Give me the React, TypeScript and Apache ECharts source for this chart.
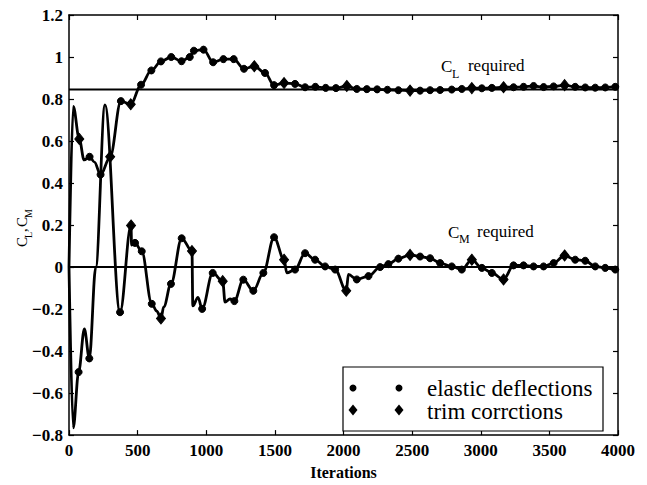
import React, { useEffect, useRef } from "react";
import * as echarts from "echarts";

// ---- data ----
const X_TICK_LABELS = ["0", "500", "1000", "1500", "2000", "2500", "3000", "3500", "4000"];
const Y_TICK_LABELS = ["\u22120.8", "\u22120.6", "\u22120.4", "\u22120.2", "0", "0.2", "0.4", "0.6", "0.8", "1", "1.2"];

const CL_REQUIRED = 0.845;
const CM_REQUIRED = 0.0;

// o = elastic deflection, d = trim correction, "" = no marker
const CL_ITER = [0, 31, 75, 110, 150, 185, 230, 300, 378, 450, 525, 600, 670, 745, 820, 880, 910, 980, 1050, 1125, 1200, 1275, 1350, 1428, 1494, 1567, 1647, 1720, 1795, 1870, 1945, 2024, 2097, 2170, 2245, 2320, 2400, 2485, 2558, 2631, 2704, 2789, 2862, 2935, 3008, 3081, 3166, 3239, 3312, 3385, 3458, 3531, 3611, 3688, 3761, 3834, 3907, 3980, 4000];
const CL_VAL = [0.0, 0.765, 0.61, 0.51, 0.525, 0.5, 0.44, 0.525, 0.79, 0.775, 0.868, 0.936, 0.979, 1.0, 0.98, 1.0, 1.03, 1.035, 0.975, 0.99, 0.99, 0.944, 0.956, 0.924, 0.866, 0.876, 0.872, 0.856, 0.858, 0.853, 0.852, 0.862, 0.848, 0.847, 0.846, 0.844, 0.842, 0.84, 0.84, 0.842, 0.843, 0.845, 0.848, 0.852, 0.851, 0.853, 0.856, 0.856, 0.858, 0.862, 0.857, 0.86, 0.866, 0.858, 0.855, 0.854, 0.855, 0.858, 0.858];
const CL_MARK = ["", "", "d", "", "o", "", "o", "d", "o", "d", "o", "o", "o", "o", "o", "o", "o", "o", "o", "o", "o", "o", "d", "o", "o", "d", "o", "o", "o", "o", "o", "d", "o", "o", "o", "o", "o", "d", "o", "o", "o", "o", "o", "d", "o", "o", "d", "o", "o", "o", "o", "o", "d", "o", "o", "o", "o", "o", ""];

const CM_ITER = [0, 31, 70, 112, 148, 195, 262, 372, 452, 456, 481, 530, 603, 640, 670, 690, 743, 821, 896, 902, 940, 970, 1047, 1120, 1137, 1173, 1205, 1270, 1343, 1416, 1494, 1567, 1587, 1647, 1720, 1793, 1866, 1939, 2020, 2036, 2097, 2182, 2267, 2327, 2400, 2485, 2558, 2631, 2704, 2789, 2862, 2935, 3008, 3081, 3166, 3239, 3312, 3385, 3458, 3531, 3611, 3688, 3761, 3834, 3907, 3980, 4000];
const CM_VAL = [0.0, -0.766, -0.5, -0.295, -0.435, 0.0, 0.772, -0.215, 0.198, 0.105, 0.115, 0.075, -0.175, -0.21, -0.245, -0.19, -0.08, 0.137, 0.076, -0.185, -0.144, -0.199, -0.028, -0.067, -0.167, -0.152, -0.162, -0.06, -0.113, -0.028, 0.142, 0.035, -0.028, -0.012, 0.066, 0.035, 0.003, -0.012, -0.113, -0.035, -0.059, -0.043, 0.0, 0.014, 0.04, 0.058, 0.05, 0.042, 0.019, 0.003, -0.012, 0.035, -0.004, -0.028, -0.059, 0.008, 0.008, 0.003, 0.003, 0.019, 0.055, 0.035, 0.03, 0.003, -0.004, -0.012, -0.012];
const CM_MARK = ["", "", "o", "", "o", "", "", "o", "d", "", "o", "o", "o", "", "d", "", "o", "o", "d", "", "", "o", "o", "d", "", "", "o", "o", "o", "o", "o", "d", "", "o", "o", "o", "o", "o", "d", "", "o", "o", "o", "o", "o", "d", "o", "o", "o", "o", "o", "d", "o", "o", "d", "o", "o", "o", "o", "o", "d", "o", "o", "o", "o", "o", ""];

const LEGEND_LABELS = ["elastic deflections", "trim corrctions"];

const SERIF = "Liberation Serif";

function buildPoints(iters: number[], vals: number[], marks: string[]) {
  return iters.map((x, i) => {
    const m = marks[i];
    if (m === "o") return { value: [x, vals[i]], symbol: "circle", symbolSize: 7 };
    if (m === "d") return { value: [x, vals[i]], symbol: "diamond", symbolSize: [9, 11] };
    return { value: [x, vals[i]], symbol: "none" };
  });
}

function txt(text: string, x: number, y: number, size: number, extra: any = {}) {
  return {
    type: "text", x, y,
    style: { text, fontFamily: SERIF, fontSize: size, fill: "#000", verticalAlign: "middle", align: "left", ...extra },
  };
}

export default function App() {
  const ref = useRef<HTMLDivElement>(null);

  useEffect(() => {
    if (!ref.current) return;
    const chart = echarts.init(ref.current, null, { renderer: "svg" });

    const tickStyle = { show: true, inside: true, length: 5, lineStyle: { color: "#000", width: 1.2 } };
    const lineStyleAxis = { show: true, onZero: false, lineStyle: { color: "#000", width: 1.5 } };

    chart.setOption({
      animation: false,
      backgroundColor: "#fff",
      grid: { left: 69, right: 29, top: 15, bottom: 41, containLabel: false },
      xAxis: [
        {
          type: "value", min: 0, max: 4000, interval: 500, position: "bottom",
          axisLine: lineStyleAxis, axisTick: tickStyle, splitLine: { show: false },
          axisLabel: {
            margin: 7, color: "#000", fontFamily: SERIF, fontSize: 17, fontWeight: "bold",
            formatter: (v: number) => X_TICK_LABELS[Math.round(v / 500)] ?? "",
          },
          name: "Iterations", nameLocation: "middle", nameGap: 26,
          nameTextStyle: { color: "#000", fontFamily: SERIF, fontSize: 16, fontWeight: "bold" },
        },
        {
          type: "value", min: 0, max: 4000, interval: 500, position: "top",
          axisLine: lineStyleAxis, axisTick: tickStyle, axisLabel: { show: false }, splitLine: { show: false },
        },
      ],
      yAxis: [
        {
          type: "value", min: -0.8, max: 1.2, interval: 0.2, position: "left",
          axisLine: lineStyleAxis, axisTick: tickStyle, splitLine: { show: false },
          axisLabel: {
            margin: 6, color: "#000", fontFamily: SERIF, fontSize: 17, fontWeight: "bold",
            formatter: (v: number) => Y_TICK_LABELS[Math.round((v + 0.8) / 0.2)] ?? "",
          },
        },
        {
          type: "value", min: -0.8, max: 1.2, interval: 0.2, position: "right",
          axisLine: lineStyleAxis, axisTick: tickStyle, axisLabel: { show: false }, splitLine: { show: false },
        },
      ],
      series: [
        {
          type: "line", name: "CL required", symbol: "none", silent: true,
          data: [[0, CL_REQUIRED], [4000, CL_REQUIRED]],
          lineStyle: { color: "#000", width: 2 }, z: 2,
        },
        {
          type: "line", name: "CM required", symbol: "none", silent: true,
          data: [[0, CM_REQUIRED], [4000, CM_REQUIRED]],
          lineStyle: { color: "#000", width: 2 }, z: 2,
        },
        {
          type: "line", name: "CL", symbol: "none", showAllSymbol: true,
          smooth: 0.35, smoothMonotone: "x",
          data: buildPoints(CL_ITER, CL_VAL, CL_MARK),
          lineStyle: { color: "#000", width: 2.8 },
          itemStyle: { color: "#000", borderColor: "#000" }, z: 3,
        },
        {
          type: "line", name: "CM", symbol: "none", showAllSymbol: true,
          smooth: 0.35, smoothMonotone: "x",
          data: buildPoints(CM_ITER, CM_VAL, CM_MARK),
          lineStyle: { color: "#000", width: 2.8 },
          itemStyle: { color: "#000", borderColor: "#000" }, z: 3,
        },
      ],
    });

    const px = (x: number, y: number) => chart.convertToPixel({ gridIndex: 0 }, [x, y]) as number[];
    const clLab = px(2710, 0.953);
    const cmLab = px(2762, 0.166);

    const reqLabel = (p: number[], sub: string, subDx: number, key: string) => ({
      type: "group", id: key, x: p[0], y: p[1],
      children: [
        txt("C", 0, 0, 17),
        txt(sub, 11, 7, 12),
        txt("required", 11 + subDx, -1, 17),
      ],
    });

    const legX = 343, legY = 367, legW = 260, legH = 64;
    const row1 = 388, row2 = 410;
    const diamond = (cx: number, cy: number) => ({
      type: "polygon",
      shape: { points: [[cx, cy - 5.5], [cx + 4.5, cy], [cx, cy + 5.5], [cx - 4.5, cy]] },
      style: { fill: "#000" },
    });

    chart.setOption({
      graphic: [
        reqLabel(clLab, "L", 16, "clreq"),
        reqLabel(cmLab, "M", 18, "cmreq"),
        {
          type: "group", id: "ylabel", x: 22, y: 247, rotation: Math.PI / 2,
          children: [
            txt("C", 0, 0, 15),
            txt("L", 9, 6, 10),
            txt(",", 15, 0, 15),
            txt("C", 20, 0, 15),
            txt("M", 29, 6, 10),
          ],
        },
        {
          type: "group", id: "legend",
          children: [
            { type: "rect", shape: { x: legX, y: legY, width: legW, height: legH }, style: { fill: "#fff", stroke: "#000", lineWidth: 1.2 }, z: 10 },
            { type: "circle", shape: { cx: 353, cy: row1, r: 3.5 }, style: { fill: "#000" }, z: 11 },
            { type: "circle", shape: { cx: 399, cy: row1, r: 3.5 }, style: { fill: "#000" }, z: 11 },
            { ...diamond(353, row2), z: 11 },
            { ...diamond(399, row2), z: 11 },
            { ...txt(LEGEND_LABELS[0], 427, row1, 23), z: 11 },
            { ...txt(LEGEND_LABELS[1], 427, row2 + 1, 23), z: 11 },
          ],
        },
      ],
    });

    return () => chart.dispose();
  }, []);

  return <div ref={ref} style={{ position: "fixed", left: 0, top: 0, width: 647, height: 485, background: "#fff" }} />;
}
